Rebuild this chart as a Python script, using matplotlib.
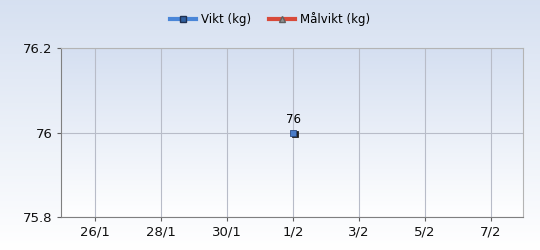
import numpy as np
import pandas as pd
import matplotlib
matplotlib.use("Agg")
import matplotlib.pyplot as plt
import matplotlib.dates as mdates
import matplotlib.transforms as mtransforms
from matplotlib.lines import Line2D

dates = pd.to_datetime(["2024-02-01"])
weight = [76]
tick_dates = pd.to_datetime(["2024-01-26", "2024-01-28", "2024-01-30", "2024-02-01",
                             "2024-02-03", "2024-02-05", "2024-02-07"])
tick_labels = ["26/1", "28/1", "30/1", "1/2", "3/2", "5/2", "7/2"]
yticks = [75.8, 76, 76.2]
ytick_labels = ["75.8", "76", "76.2"]

plt.rcParams["font.family"] = ["DejaVu Sans"]
fig = plt.figure(figsize=(5.4, 2.5), dpi=100)

# figure background gradient
bg = fig.add_axes([0, 0, 1, 1], zorder=-10)
grad = np.linspace(0, 1, 256)[:, None]
top = np.array([0.84, 0.88, 0.945]); bot = np.array([1.0, 1.0, 1.0])
img = top[None, None, :] * (1 - grad[..., None]) + bot[None, None, :] * grad[..., None]
bg.imshow(img, aspect="auto", extent=[0, 1, 0, 1])
bg.axis("off")

ax = fig.add_axes([61/540, 1 - 217/250, (523-61)/540, (217-48)/250])
ax.patch.set_alpha(0)
xmin = pd.Timestamp("2024-01-24 23:15"); xmax = pd.Timestamp("2024-02-07 23:15")
ax.set_xlim(xmin, xmax)
ax.set_ylim(75.8, 76.2)
top2 = np.array([0.835, 0.875, 0.945])
img2 = top2[None, None, :] * (1 - grad[..., None]) + bot[None, None, :] * grad[..., None]
ax.imshow(img2, aspect="auto", extent=[mdates.date2num(xmin), mdates.date2num(xmax), 75.8, 76.2],
          zorder=0)

ax.set_xticks(tick_dates)
ax.set_xticklabels(tick_labels)
ax.set_yticks(yticks)
ax.set_yticklabels(ytick_labels)
ax.grid(True, color="#b8bcc8", lw=0.8)
ax.set_axisbelow(True)
ax.tick_params(labelsize=9.5, length=3, color="#606060", pad=3, labelcolor="#101010")
for s in ["left", "bottom"]:
    ax.spines[s].set_color("#808080")
for s in ["top", "right"]:
    ax.spines[s].set_color("#b4b4b4")

shadow = ax.transData + mtransforms.ScaledTranslation(1.5/100, -1.5/100, fig.dpi_scale_trans)
ax.plot(dates, weight, ls="none", marker="s", ms=5, mfc="#202020", mec="#202020", mew=0.6,
        zorder=4, transform=shadow)
ax.plot(dates, weight, ls="none", marker="s", ms=5, mfc="#4a7cc8", mec="#2a4a80", mew=0.6, zorder=5)
for d, w in zip(dates, weight):
    ax.annotate(f"{w:g}", (d, w), xytext=(0, 5), textcoords="offset points", ha="center",
                va="bottom", fontsize=8.5)

handles = [Line2D([], [], color="#4a86d8", lw=3, marker="s", ms=4, mfc="#3060a0", mec="#203050"),
           Line2D([], [], color="#d84a3a", lw=3, marker="^", ms=4, mfc="#909090", mec="#606060")]
fig.legend(handles, ["Vikt (kg)", "Målvikt (kg)"], loc="upper center", bbox_to_anchor=(0.5, 0.995),
           ncol=2, frameon=False, fontsize=8.5, handlelength=2.2, handletextpad=0.4, columnspacing=1.5)

fig.savefig("out.png", dpi=100)
